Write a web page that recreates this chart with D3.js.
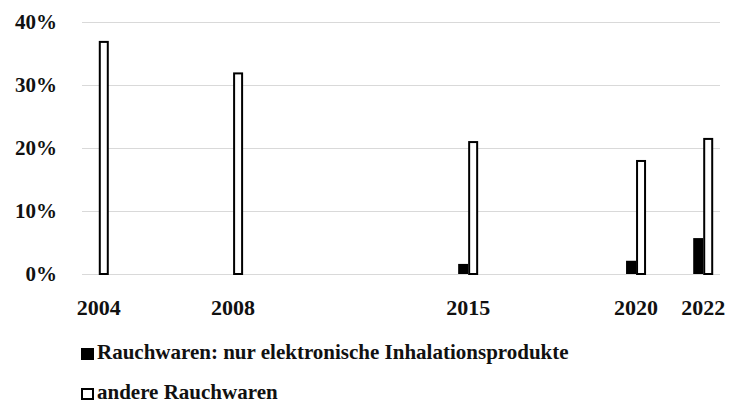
<!DOCTYPE html>
<html>
<head>
<meta charset="utf-8">
<script src="https://cdn.jsdelivr.net/npm/d3@7"></script>
<style>
  body { margin: 0; background: #fff; }
  text { font-family: "Liberation Serif", "DejaVu Serif", serif; font-weight: bold; fill: #111; }
</style>
</head>
<body>
<div id="chart"></div>
<script>
// data
var years = [2004, 2008, 2015, 2020, 2022]
var elektronisch = [0, 0, 1.6, 2.1, 5.7]
var andere = [37, 32, 21.1, 18.1, 21.6]
var yTicks = [0, 10, 20, 30, 40]
var legendLabels = ["Rauchwaren: nur elektronische Inhalationsprodukte", "andere Rauchwaren"]

var width = 737,
    height = 406

var svg = d3.select("#chart")
    .append("svg")
        .attr("width", width)
        .attr("height", height)

// years sit on a real time axis, so use a linear scale
var x = d3.scaleLinear()
    .domain([2003.5, 2022.5])
    .range([82, 720])

var y = d3.scaleLinear()
    .domain([0, 40])
    .range([274, 22])

// gridlines
svg.append("g")
    .selectAll("line")
    .data(yTicks)
    .enter()
    .append("line")
        .attr("x1", x.range()[0])
        .attr("x2", x.range()[1])
        .attr("y1", function(d) { return y(d) + 0.5 })
        .attr("y2", function(d) { return y(d) + 0.5 })
        .attr("stroke", "#d9d9d9")
        .attr("stroke-width", 1)

// y tick labels
svg.append("g")
    .selectAll("text")
    .data(yTicks)
    .enter()
    .append("text")
        .attr("x", 57)
        .attr("y", function(d) { return y(d) + 7 })
        .attr("text-anchor", "end")
        .style("font-size", "21px")
        .text(function(d) { return d + "%" })

// x labels
svg.append("g")
    .selectAll("text")
    .data(years)
    .enter()
    .append("text")
        .attr("x", function(d) { return x(d) })
        .attr("y", 315)
        .attr("text-anchor", "middle")
        .style("font-size", "22px")
        .text(function(d) { return d })

var barW = 10

// black bars (left of the year)
svg.append("g")
    .selectAll("rect")
    .data(years)
    .enter()
    .append("rect")
        .attr("x", function(d) { return x(d) - barW })
        .attr("y", function(d, i) { return y(elektronisch[i]) })
        .attr("width", barW)
        .attr("height", function(d, i) { return y(0) - y(elektronisch[i]) })
        .attr("fill", "#000")

// white bars with black outline (right of the year)
svg.append("g")
    .selectAll("rect")
    .data(years)
    .enter()
    .append("rect")
        .attr("x", function(d) { return x(d) + 1 })
        .attr("y", function(d, i) { return y(andere[i]) + 1 })
        .attr("width", barW - 2)
        .attr("height", function(d, i) { return y(0) - y(andere[i]) - 1 })
        .attr("fill", "#fff")
        .attr("stroke", "#000")
        .attr("stroke-width", 2)

// legend
var legend = svg.append("g")
    .selectAll("g")
    .data(legendLabels)
    .enter()
    .append("g")
        .attr("transform", function(d, i) { return "translate(81," + (348 + i * 40) + ")" })

legend.append("rect")
    .attr("x", function(d, i) { return i == 0 ? 0 : 1 })
    .attr("y", function(d, i) { return i == 0 ? 0 : 1 })
    .attr("width", function(d, i) { return i == 0 ? 13 : 11 })
    .attr("height", function(d, i) { return i == 0 ? 12 : 10 })
    .attr("fill", function(d, i) { return i == 0 ? "#000" : "#fff" })
    .attr("stroke", "#000")
    .attr("stroke-width", function(d, i) { return i == 0 ? 0 : 2 })

legend.append("text")
    .attr("x", 16)
    .attr("y", 11)
    .style("font-size", "21px")
    .text(function(d) { return d })
</script>
</body>
</html>
